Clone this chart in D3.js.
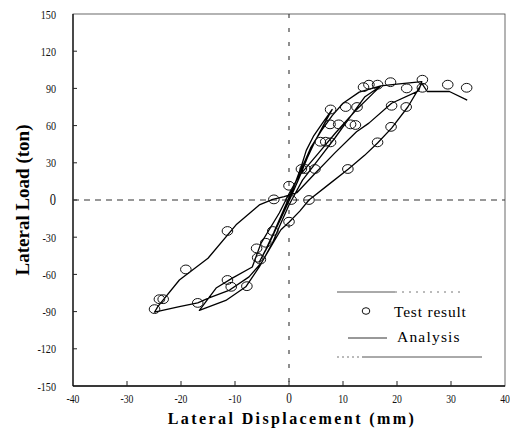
<!DOCTYPE html>
<html>
<head>
<meta charset="UTF-8">
<script src="https://d3js.org/d3.v7.min.js"></script>
<style>
  body { margin: 0; background: #fff; }
  svg { display: block; }
</style>
</head>
<body>
<svg width="510" height="430"></svg>
<script>
// Data

const xTicks = [-40, -30, -20, -10, 0, 10, 20, 30, 40];
const yTicks = [150, 120, 90, 60, 30, 0, -30, -60, -90, -120, -150];

// Test result (mm, ton)
const testDisp = [13.8, 14.8, 16.4, 18.8, 21.8, 24.7, 24.7, 29.4, 32.9,
  7.7, 10.5, 12.6, 19, 21.7,
  7.6, 9.2, 11.4, 12.3, 18.9,
  5.8, 6.8, 7.7, 16.4,
  2.3, 3, 4.8, 10.9,
  0, -2.8, 0.4, 3.7, 0,
  -11.4, -3, -4.3, -6, -5.8, -5.3,
  -19.1, -11.4, -10.7, -7.8,
  -24, -23.3, -24.9, -16.9];
const testLoad = [91, 93, 93, 95, 90, 97, 90.5, 93, 90.5,
  73, 75, 75, 76, 75,
  61, 61, 61, 60.5, 59,
  47, 47, 46.5, 46.5,
  25, 25, 25, 25,
  11.5, 0.5, 0, 0, -17.5,
  -25, -25, -34.5, -39, -46.5, -48,
  -56, -64.5, -70, -69.5,
  -80, -80, -88, -83];

// Analysis (one continuous hysteresis path)
const analysisDisp = [0, 1, 2.2, 3.2, 4.6, 6.2, 8,
  6.6, 5, 3.4, 1.8, 0.3, -1.2, -2.7, -4, -5.5,
  -4.3, -2.8, -1.2, 0.2, 2, 4, 6, 8, 10, 13, 17,
  15.8, 12.3, 8.6, 5.5, 1.8, 0, -1.8, -5.2, -6.8, -10.5, -13.5, -16.6,
  -11.7, -8, -5.5, -3.1, -1.8, 0, 2.5, 5.5, 8.5, 11.5, 14, 17, 20, 24.6,
  24, 19, 14.8, 12.5, 8.5, 4.5, 1.5, -0.9, -3, -5.5, -9.8, -15, -20.3, -24.3, -24.9,
  -20.3, -16.9, -14.8, -11, -7.4, -5, -3, -1.5, 0, 2, 3.7, 7.2, 11, 14, 16.4, 19, 22, 24.6, 25.6, 29.7, 33];
const analysisLoad = [0, 12, 26, 40, 52, 62, 73,
  62, 49, 34, 17, 2, -12, -26, -38, -50,
  -40, -26, -10, 4, 22, 42, 56, 68, 78, 87, 92,
  87, 72, 54, 38, 19, 5, -10.5, -35, -54, -63, -71, -89,
  -81, -70, -54, -35, -21.5, -4, 16, 33, 50, 68, 83, 92, 93.5, 95.5,
  88, 78, 62, 55, 38, 20, 6, 2.7, 0.5, -4, -20, -47, -64.5, -86, -90.5,
  -86, -83, -79, -72.6, -62, -50, -35, -24, -18, -9, 0, 12, 25, 36, 46, 58, 75, 94, 87.5, 87.5, 80.5];

// Layout

const plotLeft = 73, plotRight = 505, plotTop = 14, plotBottom = 386;

const x = d3.scaleLinear().domain([-40, 40]).range([plotLeft, plotRight]);
const y = d3.scaleLinear().domain([-150, 150]).range([plotBottom, plotTop]);

const svg = d3.select("svg");
const serif = "'Liberation Serif', 'Times New Roman', serif";

// Frame

svg.append("rect")
  .attr("x", plotLeft).attr("y", plotTop)
  .attr("width", plotRight - plotLeft).attr("height", plotBottom - plotTop)
  .attr("fill", "none").attr("stroke", "#444").attr("stroke-width", 0.8);

svg.append("line")
  .attr("x1", plotLeft).attr("x2", plotLeft).attr("y1", plotTop).attr("y2", plotBottom)
  .attr("stroke", "#111").attr("stroke-width", 1.3);
svg.append("line")
  .attr("x1", plotLeft).attr("x2", plotRight).attr("y1", plotBottom).attr("y2", plotBottom)
  .attr("stroke", "#111").attr("stroke-width", 1.3);

// Ticks (inside)

svg.append("g").selectAll("line")
  .data(yTicks.slice(1, -1))
  .join("line")
    .attr("x1", plotLeft).attr("x2", plotLeft + 4)
    .attr("y1", d => y(d)).attr("y2", d => y(d))
    .attr("stroke", "#222");

svg.append("g").selectAll("line")
  .data(xTicks.slice(1, -1))
  .join("line")
    .attr("x1", d => x(d)).attr("x2", d => x(d))
    .attr("y1", plotBottom).attr("y2", plotBottom - 5)
    .attr("stroke", "#222");

// Tick labels

svg.append("g").selectAll("text")
  .data(yTicks)
  .join("text")
    .attr("transform", d => `translate(${plotLeft - 17},${y(d) + 4.5}) scale(0.78,1)`)
    .attr("text-anchor", "end")
    .attr("font-family", serif)
    .attr("font-size", d => d === 0 ? 16 : 13)
    .attr("fill", "#111")
    .text(d => d);

svg.append("g").selectAll("text")
  .data(xTicks)
  .join("text")
    .attr("transform", d => `translate(${x(d)},${plotBottom + 17}) scale(0.75,1)`)
    .attr("text-anchor", "middle")
    .attr("font-family", serif)
    .attr("font-size", d => d === 0 ? 15 : 13)
    .attr("fill", "#111")
    .text(d => d);

// Axis titles

svg.append("text")
  .attr("x", (plotLeft + plotRight) / 2 + 3).attr("y", 424)
  .attr("text-anchor", "middle")
  .attr("font-family", serif)
  .attr("font-weight", "bold")
  .attr("font-size", 16)
  .attr("letter-spacing", 2.4)
  .text("Lateral Displacement (mm)");

svg.append("text")
  .attr("transform", `translate(29,${y(0)}) rotate(-90)`)
  .attr("text-anchor", "middle")
  .attr("font-family", serif)
  .attr("font-weight", "bold")
  .attr("font-size", 19)
  .text("Lateral Load (ton)");

// Zero lines

svg.append("line")
  .attr("x1", plotLeft).attr("x2", plotRight).attr("y1", y(0)).attr("y2", y(0))
  .attr("stroke", "#333").attr("stroke-width", 1.1)
  .attr("stroke-dasharray", "6,5");

svg.append("line")
  .attr("x1", x(0)).attr("x2", x(0)).attr("y1", plotTop).attr("y2", plotBottom)
  .attr("stroke", "#333").attr("stroke-width", 1.1)
  .attr("stroke-dasharray", "4,10");

// Analysis

const line = d3.line().x(d => x(d[0])).y(d => y(d[1]));

svg.append("path")
  .datum(analysisDisp.map((d, i) => [d, analysisLoad[i]]))
  .attr("d", line)
  .attr("fill", "none")
  .attr("stroke", "#000")
  .attr("stroke-width", 1.3)
  .attr("stroke-linejoin", "round");

// Test result

svg.append("g").selectAll("ellipse")
  .data(testDisp.map((d, i) => [d, testLoad[i]]))
  .join("ellipse")
    .attr("cx", d => x(d[0])).attr("cy", d => y(d[1]))
    .attr("rx", 5.3).attr("ry", 4.4)
    .attr("fill", "none")
    .attr("stroke", "#111")
    .attr("stroke-width", 1);

// Legend

const lg = svg.append("g");
lg.append("line").attr("x1", 337).attr("x2", 395).attr("y1", 292).attr("y2", 292)
  .attr("stroke", "#555");
lg.append("line").attr("x1", 395).attr("x2", 462).attr("y1", 292).attr("y2", 292)
  .attr("stroke", "#777").attr("stroke-dasharray", "2,5");
lg.append("line").attr("x1", 337).attr("x2", 362).attr("y1", 357).attr("y2", 357)
  .attr("stroke", "#777").attr("stroke-dasharray", "2,3");
lg.append("line").attr("x1", 362).attr("x2", 482).attr("y1", 357).attr("y2", 357)
  .attr("stroke", "#555");

lg.append("ellipse").attr("cx", 366).attr("cy", 311).attr("rx", 3.8).attr("ry", 3.3)
  .attr("fill", "none").attr("stroke", "#111");
lg.append("text").attr("x", 394).attr("y", 317)
  .attr("font-family", serif).attr("font-size", 15.5).attr("letter-spacing", 0.8)
  .text("Test result");

lg.append("line").attr("x1", 348).attr("x2", 387).attr("y1", 338).attr("y2", 338)
  .attr("stroke", "#333");
lg.append("text").attr("x", 397).attr("y", 342)
  .attr("font-family", serif).attr("font-size", 15.5).attr("letter-spacing", 1.2)
  .text("Analysis");
</script>
</body>
</html>
